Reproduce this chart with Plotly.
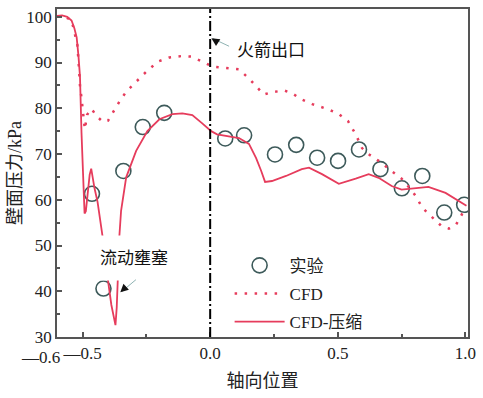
import plotly.graph_objects as go

# Experimental wall pressure (kPa) along the axial position
exp_x = [-0.463, -0.418, -0.340, -0.264, -0.180, 0.059, 0.133, 0.254, 0.337,
         0.419, 0.501, 0.583, 0.667, 0.751, 0.831, 0.917, 0.995]
exp_y = [61.3, 40.6, 66.3, 75.9, 79.0, 73.4, 74.1, 69.9, 72.0,
         69.2, 68.5, 71.0, 66.7, 62.5, 65.2, 57.2, 58.9]

# CFD (incompressible) result
cfd_x = [-0.600, -0.570, -0.543, -0.530, -0.520, -0.514, -0.510, -0.504, -0.498,
         -0.491, -0.482, -0.465, -0.445, -0.420, -0.400, -0.380, -0.355, -0.328,
         -0.290, -0.250, -0.205, -0.160, -0.114, -0.075, -0.030, 0.009, 0.061,
         0.113, 0.152, 0.210, 0.240, 0.290, 0.320, 0.360, 0.400, 0.450, 0.500,
         0.540, 0.570, 0.595, 0.620, 0.660, 0.710, 0.750, 0.790, 0.810, 0.830,
         0.870, 0.905, 0.935, 0.960, 0.980, 1.000]
cfd_y = [100.0, 100.0, 99.3, 96.4, 93.8, 88.8, 85.0, 82.2, 78.5,
         75.4, 78.6, 79.9, 78.3, 77.0, 77.3, 79.3, 81.5, 83.7,
         85.9, 88.0, 90.2, 91.1, 91.4, 91.3, 90.2, 89.1, 88.8,
         88.5, 86.5, 83.0, 83.5, 83.9, 83.3, 81.9, 80.9, 80.0, 78.9,
         77.2, 74.3, 71.3, 70.0, 68.5, 66.3, 64.6, 62.0, 60.4, 58.3,
         56.1, 54.3, 53.7, 54.3, 56.1, 58.5]

# CFD with compressibility
cmp_x = [-0.600, -0.580, -0.560, -0.543, -0.532, -0.523, -0.516, -0.510, -0.504,
         -0.498, -0.492, -0.487, -0.480, -0.472, -0.466, -0.460, -0.453, -0.441,
         -0.430, -0.421, -0.412, -0.401, -0.387, -0.371, -0.366, -0.362, -0.359,
         -0.356, -0.349, -0.329, -0.290, -0.246, -0.199, -0.148, -0.109, -0.070,
         -0.031, 0.004, 0.027, 0.063, 0.113, 0.152, 0.180, 0.200, 0.215, 0.242,
         0.297, 0.359, 0.387, 0.438, 0.504, 0.570, 0.621, 0.660, 0.711, 0.750,
         0.789, 0.855, 0.922, 0.973, 1.004]
cmp_y = [100.2, 100.3, 100.0, 99.2, 97.5, 95.5, 91.5, 87.0, 74.6,
         65.0, 57.0, 57.5, 62.0, 65.5, 66.8, 64.5, 62.5, 59.5,
         55.4, 51.8, 47.2, 42.4, 37.0, 32.6, 36.5, 42.4, 47.2,
         51.8, 57.6, 64.9, 70.7, 75.0, 77.6, 78.7, 78.9, 78.5,
         76.7, 75.0, 74.3, 73.9, 73.5, 72.2, 69.1, 66.3, 63.9, 64.1,
         65.2, 66.7, 67.0, 65.6, 63.5, 64.6, 65.6, 64.8, 63.0, 62.2,
         62.4, 62.8, 61.5, 59.8, 58.7]

x_start = -0.6
x_start_text = "\u20140.6"
x_tick_vals = [-0.5, 0.0, 0.5, 1.0]
x_tick_text = ["\u20140.5", "0.0", "0.5", "1.0"]
y_tick_vals = [30, 40, 50, 60, 70, 80, 90, 100]

RED = "#e63c5c"
TEAL = "#3d5a5a"
AXIS = "#555555"
FONT = "Liberation Serif, Noto Sans CJK SC, serif"

fig = go.Figure()

fig.add_trace(go.Scatter(
    x=exp_x, y=exp_y, mode="markers", name="实验", legendgroup="a",
    marker=dict(symbol="circle-open", size=15, color=TEAL, line=dict(width=1.6, color=TEAL)),
))
fig.add_trace(go.Scatter(
    x=cfd_x, y=cfd_y, mode="lines", name="CFD", legendgroup="b",
    line=dict(color=RED, width=2.5, dash="2.5px,7.5px"),
))
fig.add_trace(go.Scatter(
    x=cmp_x, y=cmp_y, mode="lines", name="CFD-压缩", legendgroup="c",
    line=dict(color=RED, width=1.8),
))

# nozzle exit marker
fig.add_shape(type="line", xref="x", yref="paper", x0=0, x1=0, y0=0, y1=1,
              line=dict(color="black", width=2, dash="10px,3px,2px,3px"))

annotations = [
    # axis start label, set left of the -0.5 label so the two do not collide
    dict(x=x_start, y=0, xref="x", yref="paper", text=x_start_text, showarrow=False,
         xanchor="right", yanchor="top", xshift=5, yshift=-9,
         font=dict(size=17, family=FONT, color="#222")),
    # 火箭出口 label and pointer
    dict(x=0.238, y=92.6, xref="x", yref="y", text="火箭出口", showarrow=False,
         font=dict(size=17, family=FONT, color="#111")),
    dict(x=0.012, y=95.2, xref="x", yref="y", ax=0.08, ay=93.4, axref="x", ayref="y",
         text="", showarrow=True, arrowhead=0, arrowwidth=1, arrowcolor="#8fb3b3"),
    dict(x=0.005, y=95.3, xref="x", yref="y", ax=0.03, ay=94.4, axref="x", ayref="y",
         text="", showarrow=True, arrowhead=2, arrowsize=1, arrowwidth=1.6, arrowcolor="#111"),
    # 流动壅塞 label (white box over the curve) and pointer
    dict(x=-0.297, y=47.2, xref="x", yref="y", text="流动壅塞", showarrow=False,
         font=dict(size=17, family=FONT, color="#111"), bgcolor="white",
         width=78, height=44, borderpad=0),
    dict(x=-0.345, y=40.0, xref="x", yref="y", ax=-0.285, ay=42.8, axref="x", ayref="y",
         text="", showarrow=True, arrowhead=0, arrowwidth=1, arrowcolor="#8fb3b3"),
    dict(x=-0.352, y=39.8, xref="x", yref="y", ax=-0.325, ay=41.2, axref="x", ayref="y",
         text="", showarrow=True, arrowhead=2, arrowsize=1, arrowwidth=1.6, arrowcolor="#111"),
]

fig.update_layout(
    width=483, height=398,
    margin=dict(l=57, r=13, t=7, b=61),
    plot_bgcolor="white", paper_bgcolor="white",
    font=dict(family=FONT, size=17, color="#222"),
    showlegend=True,
    legend=dict(x=0.42, y=0.272, xanchor="left", yanchor="top",
                bgcolor="rgba(0,0,0,0)", font=dict(size=17, family=FONT),
                itemwidth=50, tracegroupgap=3),
    annotations=annotations,
)

fig.update_xaxes(
    range=[x_start, 1.01], tickmode="array", tickvals=x_tick_vals, ticktext=x_tick_text,
    tickangle=0,
    ticks="inside", ticklen=5, tickwidth=1.5, tickcolor=AXIS,
    minor=dict(tickvals=[-0.25, 0.25, 0.75], ticks="inside", ticklen=3, tickcolor=AXIS, tickwidth=1.5),
    showline=True, linecolor=AXIS, linewidth=1.8, mirror=True, showgrid=False, zeroline=False,
    tickfont=dict(size=17), title=dict(text="轴向位置", font=dict(size=18), standoff=12),
)
fig.update_yaxes(
    range=[30, 101.7], tickmode="array", tickvals=y_tick_vals,
    ticks="inside", ticklen=5, tickwidth=1.5, tickcolor=AXIS,
    minor=dict(dtick=5, ticks="inside", ticklen=3, tickcolor=AXIS, tickwidth=1.5),
    showline=True, linecolor=AXIS, linewidth=1.8, mirror=True, showgrid=False, zeroline=False,
    tickfont=dict(size=17), title=dict(text="壁面压力/kPa", font=dict(size=18), standoff=0),
)

fig.write_html("out.html")
